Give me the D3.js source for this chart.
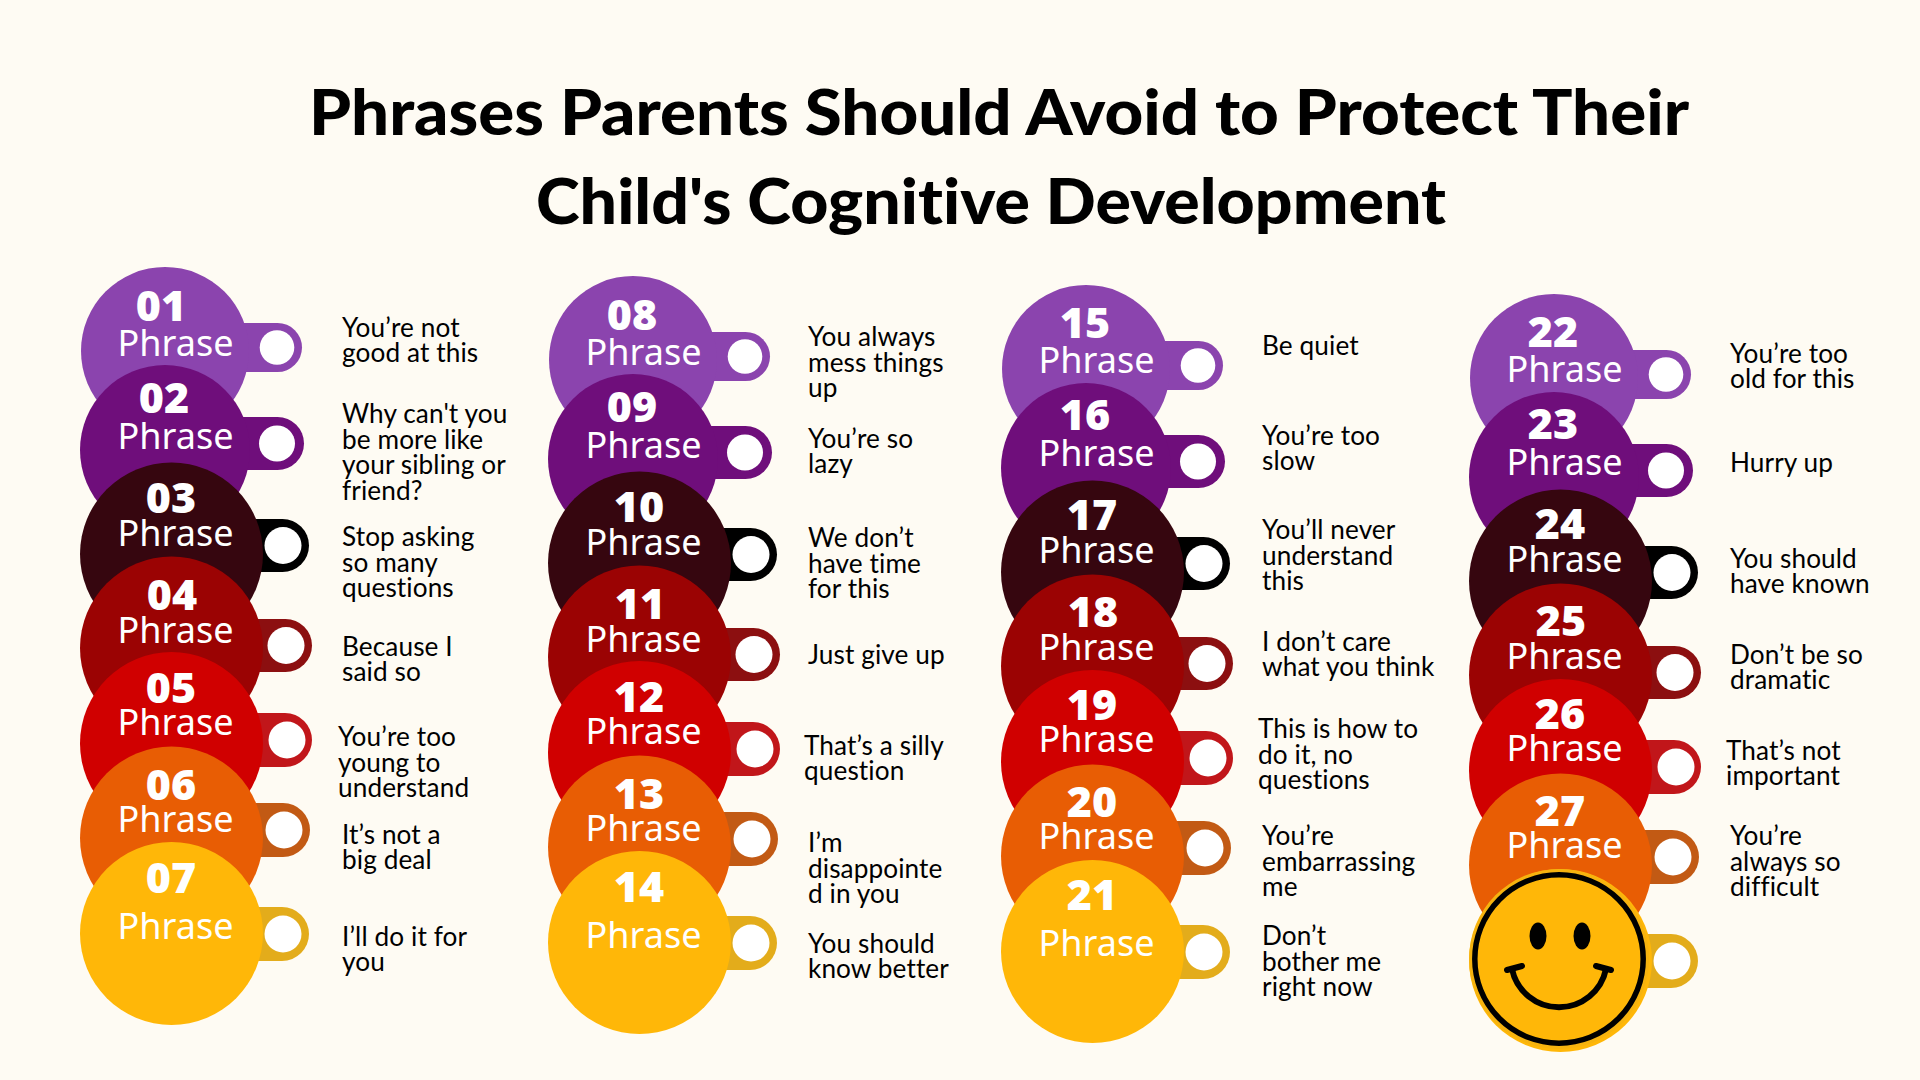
<!DOCTYPE html>
<html><head><meta charset="utf-8">
<script src="https://cdn.jsdelivr.net/npm/d3@7/dist/d3.min.js"></script>
<style>html,body{margin:0;padding:0;background:#fefbf3;overflow:hidden}svg{display:block}text{font-variant-ligatures:none}</style>
</head><body><svg id="c" width="1920" height="1080"></svg>
<script>
const titleLines = ["Phrases Parents Should Avoid to Protect Their", "Child's Cognitive Development"];
const numbers = ["01","02","03","04","05","06","07","08","09","10","11","12","13","14","15","16","17","18","19","20","21","22","23","24","25","26","27"];
const phrases = [
 ["You’re not","good at this"],["Why can't you","be more like","your sibling or","friend?"],["Stop asking","so many","questions"],["Because I","said so"],["You’re too","young to","understand"],["It’s not a","big deal"],["I’ll do it for","you"],
 ["You always","mess things","up"],["You’re so","lazy"],["We don’t","have time","for this"],["Just give up"],["That’s a silly","question"],["I’m","disappointe","d in you"],["You should","know better"],
 ["Be quiet"],["You’re too","slow"],["You’ll never","understand","this"],["I don’t care","what you think"],["This is how to","do it, no","questions"],["You’re","embarrassing","me"],["Don’t","bother me","right now"],
 ["You’re too","old for this"],["Hurry up"],["You should","have known"],["Don’t be so","dramatic"],["That’s not","important"],["You’re","always so","difficult"]
];
const fills = ["#8b44ae","#6f0e7b","#36060f","#9b0303","#d00000","#e85d04","#ffb708"];
const tabFills = ["#8b44ae","#6f0e7b","#000000","#8c0f10","#c1161a","#c25a14","#e3ac1b"];

// layout scales (pixels of the page)
const colIdx=[0,1,2,3], rowIdx=[0,1,2,3,4,5,6];
const colDx=d3.scaleOrdinal(colIdx,[0,468,921,1389]);
const colDy=d3.scaleOrdinal(colIdx,[0,9,18,27]);
const cx=d3.scaleOrdinal(rowIdx,[165,165,171.5,171.5,171.5,171.5,171.5]);
const cy=d3.scaleOrdinal(rowIdx,[351,450,554,648,743.5,838,933.5]);
const rad=d3.scaleOrdinal(rowIdx,[84,85,91.5,91.5,91.5,91.5,91.5]);
const tabTop=d3.scaleOrdinal(rowIdx,[323,417,519,619,713,803,907]);
const tabBot=d3.scaleOrdinal(rowIdx,[372,470,572,672,767,857,961]);
const tabRight=d3.scaleOrdinal(rowIdx,[302,304,309,312,312,310,309]);
const holeX=d3.scaleOrdinal(rowIdx,[277,277,283,286,287,284,283]);
const holeR=d3.scaleOrdinal(rowIdx,[17.3,18,18.5,18.5,18.5,18.5,18.5]);
const numX=d3.scaleOrdinal(rowIdx,[164,164,171,172,171,171,171]);
const numY=d3.scaleOrdinal(rowIdx,[320.5,412.5,512.5,609.5,702.5,799.5,892.5]);
const numColDy=d3.scaleOrdinal(colIdx,[0,0,-1,-1]);
const phrY=d3.scaleOrdinal(rowIdx,[355.5,448.5,545.5,642.5,734.5,831.5,938.5]);
const phrColDy=d3.scaleOrdinal(colIdx,[0,0,-1,-1]);
const textX=[342,808,1262,1730];
const textShift=d3.scaleOrdinal(rowIdx,[0,0,0,0,-4,0,0]);
const textCy=[[340,452,562,659,762,847,949],[362,451,563,654,758,868,956],[345,448,555,654,754,861,961],[366,462,571,667,763,861]];
const LH=25.7;

const svg=d3.select("#c");
svg.append("rect").attr("width",1920).attr("height",1080).attr("fill","#fefbf3");
const TF="Lato, sans-serif";
const titleX=[999,991], titleY=[135,224], titleW=[1380,910];
svg.selectAll("text.title").data(titleLines).join("text").attr("class","title")
 .attr("x",(d,i)=>titleX[i]).attr("y",(d,i)=>titleY[i]).attr("text-anchor","middle")
 .attr("font-family",TF).attr("font-weight",900).attr("font-size",62).attr("fill","#000")
 .attr("textLength",(d,i)=>titleW[i]).attr("lengthAdjust","spacingAndGlyphs").text(d=>d);

const items=d3.range(numbers.length+1).map(i=>({i,col:Math.floor(i/7),row:i%7,num:numbers[i],lines:phrases[i]}));
const g=svg.selectAll("g.item").data(items).join("g").attr("class","item")
 .attr("transform",d=>`translate(${colDx(d.col)},${colDy(d.col)})`);
g.append("rect").attr("x",d=>cx(d.row)).attr("y",d=>tabTop(d.row))
 .attr("width",d=>tabRight(d.row)-cx(d.row)).attr("height",d=>tabBot(d.row)-tabTop(d.row))
 .attr("rx",d=>(tabBot(d.row)-tabTop(d.row))/2).attr("fill",d=>tabFills[d.row]);
g.append("circle").attr("cx",d=>holeX(d.row)).attr("cy",d=>(tabTop(d.row)+tabBot(d.row))/2)
 .attr("r",d=>holeR(d.row)).attr("fill","#fff");
g.append("circle").attr("cx",d=>cx(d.row)).attr("cy",d=>cy(d.row)).attr("r",d=>rad(d.row)).attr("fill",d=>fills[d.row]);
const lab=g.filter(d=>d.num);
lab.append("text").attr("x",d=>d.i===0?161:numX(d.row)).attr("y",d=>numY(d.row)+numColDy(d.col)).attr("text-anchor","middle")
 .attr("font-family","'Open Sans'").attr("font-weight",800).attr("font-size",43).attr("fill","#fff").text(d=>d.num);
lab.append("text").attr("x",175.5).attr("y",d=>phrY(d.row)+phrColDy(d.col)).attr("text-anchor","middle")
 .attr("font-family","'Noto Sans'").attr("font-size",36).attr("fill","#fff").text("Phrase");

// phrases
items.filter(d=>d.lines).forEach(d=>{
 const n=d.lines.length;
 svg.append("g").selectAll("text").data(d.lines).join("text")
  .attr("x",textX[d.col]+textShift(d.row))
  .attr("y",(l,k)=>textCy[d.col][d.row]+(k-(n-1)/2)*LH+9.5)
  .attr("font-family",TF).attr("font-size",26.2).attr("letter-spacing",0.1).attr("fill","#000").text(l=>l);
});

// smiley over the last slot
const s=svg.append("g").attr("transform","translate(1559,959)");
s.append("circle").attr("r",90).attr("fill","#f6b30f");
s.append("circle").attr("r",84.2).attr("fill","#ffb708").attr("stroke","#000").attr("stroke-width",5.5);
s.selectAll("ellipse").data([-21,23]).join("ellipse").attr("cx",d=>d).attr("cy",-23).attr("rx",8.5).attr("ry",13.5).attr("fill","#000");
s.append("path").attr("d","M-47,10 A48,48 0 0 0 47,10").attr("fill","none").attr("stroke","#000").attr("stroke-width",6);
s.append("path").attr("d","M-52,11 L-37,7 M52,11 L37,7").attr("fill","none").attr("stroke","#000").attr("stroke-width",6).attr("stroke-linecap","round");
</script></body></html>
